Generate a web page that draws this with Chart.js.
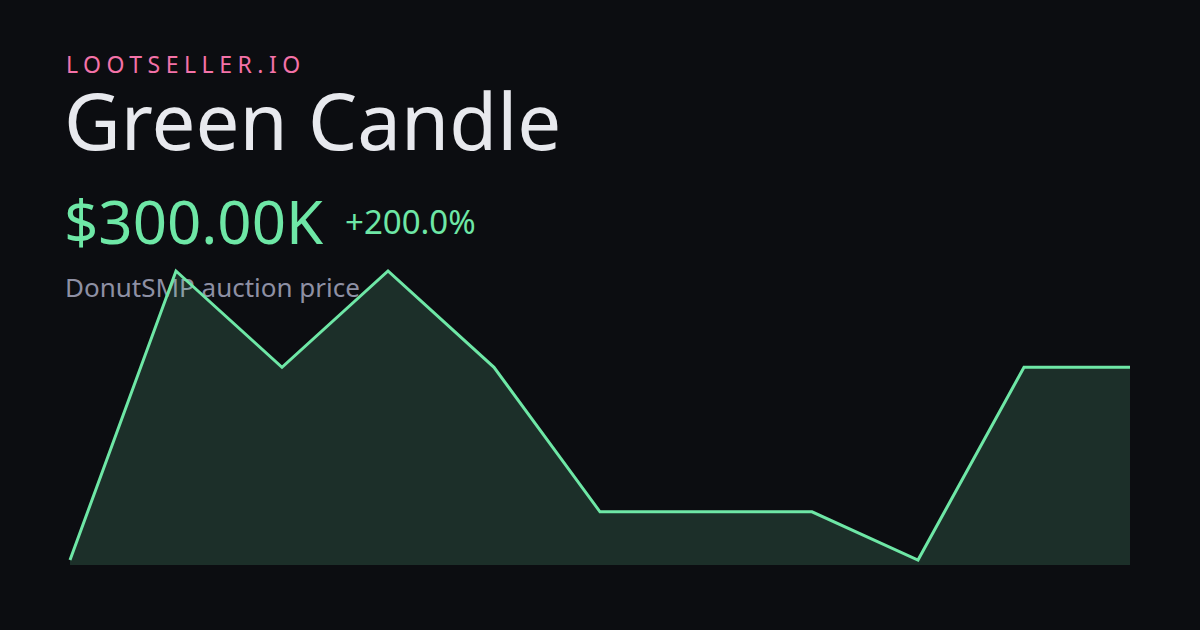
<!DOCTYPE html>
<html>
<head>
<meta charset="utf-8">
<script src="https://cdn.jsdelivr.net/npm/chart.js@4"></script>
<style>
  html, body { margin: 0; padding: 0; background: #0c0d11; }
  #card { position: relative; width: 1200px; height: 630px; overflow: hidden; background: #0c0d11; font-family: "Noto Sans", sans-serif; }
  .txt { position: absolute; left: 66px; line-height: 1; white-space: nowrap; }
  #brand { top: 53px; font-size: 23px; letter-spacing: 5.5px; color: #f472a8; }
  #title { top: 81px; left: 64px; font-size: 78px; color: #e8e9ee; }
  #price { top: 191px; left: 64px; font-size: 60px; color: #6ee7a6; }
  #change { top: 205px; left: 345px; font-size: 33px; color: #6ee7a6; }
  #sub { top: 274px; left: 65px; font-size: 26px; color: #8e90a4; }
  #chart { position: absolute; left: 0; top: 0; }
</style>
</head>
<body>
<div id="card">
  <div class="txt" id="brand">LOOTSELLER.IO</div>
  <div class="txt" id="title">Green Candle</div>
  <div class="txt" id="price">$300.00K</div>
  <div class="txt" id="change">+200.0%</div>
  <div class="txt" id="sub">DonutSMP auction price</div>
  <canvas id="chart" width="1200" height="630"></canvas>
</div>
<script>
// dados do grafico (precos em milhares)
const labels = ['1', '2', '3', '4', '5', '6', '7', '8', '9', '10', '11'];
const prices = [100, 400, 300, 400, 300, 150, 150, 150, 100, 300, 300];
const yMin = 94.8;
const yMax = 400;

const ctx = document.getElementById('chart');
new Chart(ctx, {
    type: 'line',
    data: {
        labels: labels,
        datasets: [{
            data: prices,
            borderColor: '#6ee7a6',
            borderWidth: 3,
            backgroundColor: 'rgba(110, 231, 166, 0.16)',
            fill: 'start',
            tension: 0,
            pointRadius: 0,
            clip: false
        }]
    },
    options: {
        responsive: false,
        animation: false,
        layout: {
            padding: { left: 70, right: 70, top: 271, bottom: 65 }
        },
        scales: {
            x: { display: false, offset: false },
            y: { display: false, min: yMin, max: yMax }
        },
        plugins: {
            legend: { display: false },
            tooltip: { enabled: false }
        }
    }
});
</script>
</body>
</html>
